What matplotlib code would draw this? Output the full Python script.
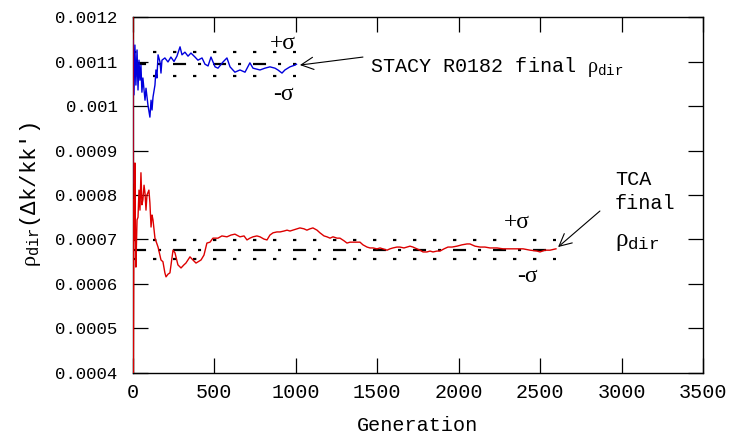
import matplotlib
matplotlib.use("Agg")
import matplotlib.pyplot as plt

plt.rcParams['mathtext.fontset'] = 'custom'
plt.rcParams['mathtext.rm'] = 'Liberation Serif'
plt.rcParams['mathtext.it'] = 'Liberation Serif'
plt.rcParams['mathtext.tt'] = 'Liberation Mono'
plt.rcParams['lines.scale_dashes'] = False

# ---- data ----
stacy_gen = [0, 2, 6, 12, 18, 25, 31, 37, 43, 49, 55, 61, 74, 80, 92, 104, 111, 117, 123, 135,
             141, 147, 154, 166, 172, 178, 196, 215, 233, 252, 270, 289, 301, 319, 338, 356, 381,
             399, 424, 442, 461, 479, 504, 522, 553, 577, 596, 626, 657, 688, 718, 737, 780, 810,
             841, 872, 890, 915, 933, 964, 995, 1004]
stacy_rho = [0.000827, 0.001148, 0.001025, 0.001137, 0.001047, 0.001126, 0.001036, 0.001103,
             0.001058, 0.001092, 0.001031, 0.001063, 0.001013, 0.001040, 0.001002, 0.000975,
             0.001013, 0.000991, 0.001020, 0.001047, 0.001081, 0.001063, 0.001115, 0.001099,
             0.001074, 0.001103, 0.001108, 0.001099, 0.001110, 0.001100, 0.001112, 0.001133,
             0.001115, 0.001121, 0.001112, 0.001119, 0.001110, 0.001103, 0.001108, 0.001094,
             0.001090, 0.001110, 0.001088, 0.001085, 0.001099, 0.001108, 0.001088, 0.001076,
             0.001081, 0.001076, 0.001097, 0.001085, 0.001081, 0.001085, 0.001088, 0.001085,
             0.001081, 0.001074, 0.001081, 0.001088, 0.001092, 0.001094]

tca_gen = [0, 2, 6, 9, 12, 15, 18, 25, 31, 37, 43, 49, 55, 61, 68, 74, 80, 86, 98, 104, 111, 117,
           123, 135, 154, 172, 184, 196, 203, 215, 227, 246, 258, 276, 295, 313, 325, 350, 368,
           387, 418, 436, 454, 473, 491, 522, 546, 577, 602, 626, 657, 682, 700, 718, 737, 761,
           780, 804, 823, 841, 860, 884, 903, 927, 946, 964, 982, 1007, 1025, 1050, 1068, 1087,
           1105, 1130, 1148, 1173, 1191, 1210, 1228, 1253, 1271, 1296, 1314, 1333, 1351, 1376,
           1394, 1412, 1437, 1455, 1474, 1498, 1517, 1535, 1560, 1578, 1596, 1621, 1639, 1664,
           1682, 1701, 1719, 1744, 1762, 1781, 1805, 1824, 1842, 1867, 1885, 1910, 1934, 1959,
           1989, 2020, 2051, 2069, 2100, 2131, 2161, 2192, 2235, 2272, 2315, 2358, 2395, 2438,
           2481, 2499, 2530, 2561, 2597]
tca_rho = [0.00125, 0.00035, 0.000789, 0.000700, 0.000872, 0.000721, 0.000638, 0.000744,
           0.000750, 0.000811, 0.000766, 0.000850, 0.000778, 0.000789, 0.000822, 0.000804,
           0.000766, 0.000800, 0.000811, 0.000782, 0.000728, 0.000755, 0.000744, 0.000703,
           0.000683, 0.000654, 0.000650, 0.000625, 0.000616, 0.000622, 0.000625, 0.000676,
           0.000670, 0.000643, 0.000636, 0.000643, 0.000647, 0.000661, 0.000654, 0.000647,
           0.000654, 0.000665, 0.000692, 0.000694, 0.000703, 0.000703, 0.000708, 0.000706,
           0.000710, 0.000712, 0.000706, 0.000708, 0.000699, 0.000703, 0.000706, 0.000708,
           0.000706, 0.000701, 0.000699, 0.000710, 0.000715, 0.000717, 0.000717, 0.000719,
           0.000721, 0.000719, 0.000721, 0.000724, 0.000726, 0.000724, 0.000721, 0.000724,
           0.000726, 0.000721, 0.000715, 0.000708, 0.000706, 0.000703, 0.000706, 0.000703,
           0.000703, 0.000697, 0.000692, 0.000694, 0.000694, 0.000694, 0.000694, 0.000688,
           0.000683, 0.000681, 0.000681, 0.000679, 0.000681, 0.000679, 0.000676, 0.000679,
           0.000681, 0.000683, 0.000683, 0.000681, 0.000683, 0.000685, 0.000683, 0.000679,
           0.000676, 0.000672, 0.000672, 0.000674, 0.000672, 0.000674, 0.000674, 0.000679,
           0.000683, 0.000683, 0.000685, 0.000688, 0.000690, 0.000690, 0.000685, 0.000683,
           0.000683, 0.000681, 0.000681, 0.000679, 0.000679, 0.000679, 0.000679, 0.000676,
           0.000674, 0.000672, 0.000676, 0.000676, 0.000679]

stacy_mean, stacy_sigma, stacy_end = 0.001094, 0.000027, 1000
tca_mean, tca_sigma, tca_end = 0.000677, 0.000021, 2600

x_ticks = [0, 500, 1000, 1500, 2000, 2500, 3000, 3500]
y_ticks = [0.0004, 0.0005, 0.0006, 0.0007, 0.0008, 0.0009, 0.001, 0.0011, 0.0012]
y_tick_labels = ['0.0004', '0.0005', '0.0006', '0.0007', '0.0008', '0.0009', '0.001',
                 '0.0011', '0.0012']

# ---- figure ----
fig = plt.figure(figsize=(7.33, 4.34), dpi=100)
ax = fig.add_axes([0.1814, 0.1406, 0.9591 - 0.1814, 0.9608 - 0.1406])

mono = 'Liberation Mono'
serif = 'Liberation Serif'

for mean, sig, end in [(stacy_mean, stacy_sigma, stacy_end), (tca_mean, tca_sigma, tca_end)]:
    ax.plot([0, end], [mean, mean], color='black', lw=1.6, dashes=(9.4, 8.6, 2.2, 8.6), zorder=2)
    for v in (mean + sig, mean - sig):
        ax.plot([0, end], [v, v], color='black', lw=1.6, dashes=(2.4, 12.0), zorder=2)

ax.plot(stacy_gen, stacy_rho, color='#0000dd', lw=1.0, zorder=3)
ax.plot(tca_gen, tca_rho, color='#dd0000', lw=1.0, zorder=3)

ax.set_xlim(0, 3500)
ax.set_ylim(0.0004, 0.0012)
ax.set_xticks(x_ticks)
ax.set_xticklabels([str(t) for t in x_ticks], family=mono, fontsize=14.5)
ax.set_yticks(y_ticks)
ax.set_yticklabels(y_tick_labels, family=mono, fontsize=12.5)
ax.tick_params(axis='both', direction='in', length=11, width=0.9, top=True, right=True)
ax.tick_params(axis='y', pad=11)
ax.tick_params(axis='x', pad=7)
for s in ax.spines.values():
    s.set_linewidth(1.0)

ax.set_xlabel('Generation', family=mono, fontsize=14.5, labelpad=2)
ax.xaxis.set_label_coords(0.5, -0.12)
ax.set_ylabel(r"$\rho_{\mathtt{dir}}$(Δk/kk')", family=mono, fontsize=16)
ax.yaxis.set_label_coords(-0.158, 0.5)

# sigma labels
ax.text(921, 0.00114, '+σ', family=serif, fontsize=17, ha='center', va='center')
ax.text(921, 0.001025, '-σ', family=serif, fontsize=17, ha='center', va='center')
ax.text(2358, 0.000739, '+σ', family=serif, fontsize=17, ha='center', va='center')
ax.text(2419, 0.000616, '-σ', family=serif, fontsize=17, ha='center', va='center')

# annotations
ax.annotate('', xy=(1025, 0.001092), xytext=(1412, 0.00111),
            arrowprops=dict(arrowstyle='->', lw=0.8, color='black', mutation_scale=22,
                            shrinkA=0, shrinkB=0))
ax.text(1455, 0.001077, r'STACY R0182 final $\rho_{\mathtt{dir}}$', family=mono,
        fontsize=14.5, ha='left', va='baseline')

ax.annotate('', xy=(2610, 0.000683), xytext=(2867, 0.000764),
            arrowprops=dict(arrowstyle='->', lw=0.8, color='black', mutation_scale=22,
                            shrinkA=0, shrinkB=0))
ax.text(2959, 0.000834, 'TCA', family=mono, fontsize=14.5, ha='left', va='center')
ax.text(2959, 0.000782, 'final', family=mono, fontsize=14.5, ha='left', va='center')
ax.text(2959, 0.000685, r'$\rho_{\mathtt{dir}}$', family=mono, fontsize=18, ha='left',
        va='baseline')

fig.savefig('out.png', dpi=100)
